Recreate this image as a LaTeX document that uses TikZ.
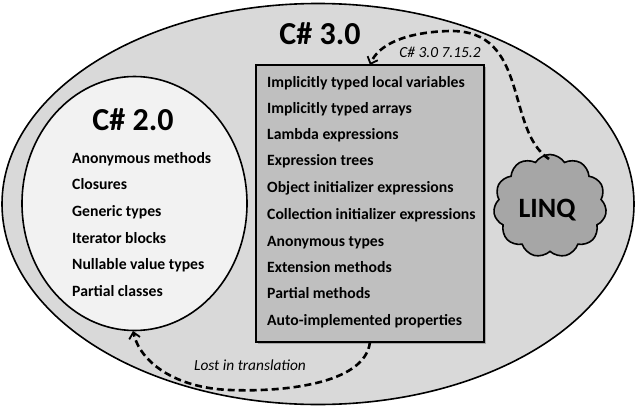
\documentclass[tikz,border=0pt]{standalone}
\usepackage{fontspec}
\setmainfont{Carlito}
\usetikzlibrary{shapes.geometric,shapes.symbols,arrows.meta}
\definecolor{outerfill}{HTML}{D9D9D9}
\definecolor{innerfill}{HTML}{F2F2F2}
\definecolor{boxfill}{HTML}{BFBFBF}
\definecolor{cloudfill}{HTML}{A6A6A6}
\begin{document}
\begin{tikzpicture}[x=1pt,y=-1pt,
  item/.style={anchor=base west, inner sep=0pt, font=\fontsize{15.7}{18}\selectfont\bfseries},
  title/.style={inner sep=0pt, font=\fontsize{32}{36}\selectfont\bfseries},
  note/.style={inner sep=0pt, font=\fontsize{15.4}{18}\selectfont\itshape},
  link/.style={line width=2.6pt, dash pattern=on 7pt off 4pt,
    -{Straight Barb[length=6pt,width=11pt,line width=1.8pt]}}]
\useasboundingbox (0,0) rectangle (640,407);

% outer C# 3.0 region
\node[ellipse, draw, line width=1.6pt, fill=outerfill, inner sep=0pt,
      minimum width=632pt, minimum height=401pt] (cs3) at (318,204) {};
\node[title] (cs3title) at (320,34) {C\# 3.0};

% C# 2.0 ellipse
\node[ellipse, draw, line width=1.6pt, fill=innerfill, inner sep=0pt,
      minimum width=225pt, minimum height=254pt] (cs2) at (134.5,203.5) {};
\node[title] (cs2title) at (133,120) {C\# 2.0};
\node[item] (a1) at (72,163) {Anonymous methods};
\node[item] (a2) at (72,189.5) {Closures};
\node[item] (a3) at (72,216.5) {Generic types};
\node[item] (a4) at (72,243) {Iterator blocks};
\node[item] (a5) at (72,269.5) {Nullable value types};
\node[item] (a6) at (72,296) {Partial classes};

% C# 3.0 feature box with a slight shadow
\fill[gray!70] (258,67) rectangle (486,344);
\node[rectangle, draw, line width=1.4pt, fill=boxfill, inner sep=0pt,
      minimum width=228pt, minimum height=277pt] (box) at (370,203.5) {};
\node[item] (b1) at (267,87) {Implicitly typed local variables};
\node[item] (b2) at (267,113) {Implicitly typed arrays};
\node[item] (b3) at (267,139) {Lambda expressions};
\node[item] (b4) at (267,165) {Expression trees};
\node[item] (b5) at (267,192) {Object initializer expressions};
\node[item] (b6) at (267,219) {Collection initializer expressions};
\node[item] (b7) at (267,246) {Anonymous types};
\node[item] (b8) at (267,272) {Extension methods};
\node[item] (b9) at (267,298) {Partial methods};
\node[item] (b10) at (267,325) {Auto-implemented properties};

% LINQ cloud
\node[cloud, draw, line width=1.6pt, fill=cloudfill, cloud puffs=11, cloud puff arc=115,
      aspect=1.1, inner sep=0pt, minimum width=113pt, minimum height=103pt] (linq) at (550,206) {};
\node[title, font=\fontsize{28}{32}\selectfont\bfseries] (linqtext) at (547,210) {LINQ};

% connectors
\coordinate (linqtop) at (549,159);
\coordinate (boxtop) at (370,65);
\coordinate (boxbot) at (370,342);
\coordinate (cs2bot) at (133,331);
\draw[link] (linqtop) .. controls (505,130) and (530,30) .. (450,31)
                      .. controls (405,32) and (378,45) .. (boxtop);
\node[note] (ref) at (440,52) {C\# 3.0 7.15.2};
\draw[link] (boxbot) .. controls (365,385) and (280,392) .. (230,390)
                     .. controls (175,388) and (140,362) .. (cs2bot);
\node[note] (lost) at (250,365) {Lost in translation};
\end{tikzpicture}
\end{document}
